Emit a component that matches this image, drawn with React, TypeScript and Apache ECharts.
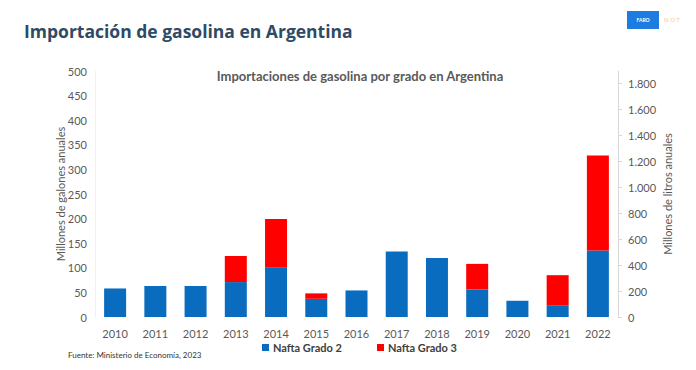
import React, { useEffect, useRef } from "react";
import * as echarts from "echarts";

const years = ["2010","2011","2012","2013","2014","2015","2016","2017","2018","2019","2020","2021","2022"];
const grado2 = [58, 63, 63, 71, 100, 37, 54, 133, 120, 56, 33, 24, 135];
const grado3 = [0, 0, 0, 53, 99, 11, 0, 0, 0, 52, 0, 61, 193];
const seriesNames = ["Nafta Grado 2", "Nafta Grado 3"];
const LITERS_PER_GALLON = 3.78541;

export default function App() {
  const ref = useRef<HTMLDivElement>(null);
  useEffect(() => {
    document.body.style.margin = "0";
    const chart = echarts.init(ref.current!, null, { renderer: "svg" });
    const font = "Lato, 'Open Sans', sans-serif";
    chart.setOption({
      animation: false,
      backgroundColor: "#ffffff",
      textStyle: { fontFamily: font },
      title: [
        {
          text: "Importación de gasolina en Argentina",
          left: 19, top: 17,
          textStyle: { fontFamily: "'Open Sans', sans-serif", fontSize: 17.5, fontWeight: "bold", color: "#2F4A65" },
        },
        {
          text: "Importaciones de gasolina por grado en Argentina",
          left: 355, top: 64, textAlign: "center",
          textStyle: { fontFamily: font, fontSize: 13, fontWeight: "bold", color: "#595959" },
        },
      ],
      legend: {
        data: seriesNames,
        bottom: 12, left: 257,
        itemWidth: 7, itemHeight: 7, itemGap: 35,
        icon: "rect",
        textStyle: { fontFamily: font, fontSize: 11, fontWeight: "bold", color: "#404040", padding: [0, 0, 0, -1] },
      },
      grid: { left: 95, right: 78, top: 71, bottom: 53 },
      xAxis: {
        type: "category",
        data: years,
        axisLine: { show: false },
        axisTick: { show: false },
        axisLabel: { color: "#595959", fontSize: 11, margin: 11, fontFamily: font },
      },
      yAxis: [
        {
          type: "value",
          min: 0, max: 500, interval: 50,
          name: "Millones de galones anuales",
          nameLocation: "middle", nameGap: 29, nameRotate: 90, nameMoveOverlap: false,
          nameTextStyle: { color: "#595959", fontSize: 11, fontFamily: font },
          axisLine: { show: true, lineStyle: { color: "#f0f0f0" } },
          axisTick: { show: false },
          splitLine: { show: false },
          axisLabel: { color: "#595959", fontSize: 11, margin: 8, fontFamily: font },
        },
        {
          type: "value",
          min: 0, max: 500 * LITERS_PER_GALLON, interval: 200,
          position: "right",
          name: "Millones de litros anuales",
          nameLocation: "middle", nameGap: 44, nameRotate: 90, nameMoveOverlap: false,
          nameTextStyle: { color: "#595959", fontSize: 11, fontFamily: font },
          axisLine: { show: true, lineStyle: { color: "#d9d9d9" } },
          axisTick: { show: true, length: 4, lineStyle: { color: "#d9d9d9" } },
          splitLine: { show: false },
          axisLabel: {
            color: "#595959", fontSize: 11, margin: 10, fontFamily: font,
            showMaxLabel: false,
            formatter: (v: number) => (Math.abs(v % 200) > 0.001 ? "" : v.toLocaleString("de-DE")),
          },
        },
      ],
      series: [
        {
          name: seriesNames[0], type: "bar", stack: "a", data: grado2,
          barWidth: 22, itemStyle: { color: "#0A6CBE" },
        },
        {
          name: seriesNames[1], type: "bar", stack: "a", data: grado3,
          barWidth: 22, itemStyle: { color: "#FF0000" },
        },
      ],
      graphic: [
        {
          type: "text", left: 68, top: 351,
          style: { text: "Fuente: Ministerio de Economía, 2023", fontSize: 8, fill: "#333333", fontFamily: font },
        },
        {
          type: "rect", shape: { x: 627, y: 11, width: 32, height: 18 },
          style: { fill: "#1E7BE0" },
        },
        {
          type: "text", x: 643, y: 20,
          style: { text: "FARO", fontSize: 5, fill: "#ffffff", fontWeight: "bold", align: "center", verticalAlign: "middle", fontFamily: font },
        },
        {
          type: "text", x: 672, y: 19,
          style: { text: "N O T", fontSize: 6, fill: "#F2C9A0", align: "center", verticalAlign: "middle", fontFamily: font },
        },
      ],
    });
    return () => chart.dispose();
  }, []);
  return <div ref={ref} style={{ width: 696, height: 370 }} />;
}
